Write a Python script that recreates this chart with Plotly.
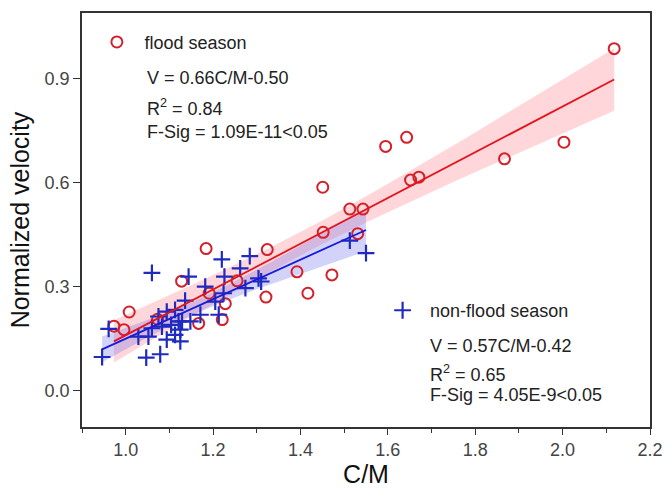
import numpy as np
import plotly.graph_objects as go

# ---------------- data ----------------
flood_cm = [2.118, 2.003, 1.867, 1.671, 1.652, 1.643, 1.595, 1.451, 1.513, 1.543,
            1.452, 1.531, 1.392, 1.472, 1.417, 1.184, 1.324, 1.128, 1.255, 1.191,
            1.321, 1.228, 1.008, 1.167, 1.221, 1.073, 0.973, 0.996]
flood_v = [0.987, 0.717, 0.669, 0.616, 0.608, 0.731, 0.705, 0.587, 0.524, 0.524,
           0.457, 0.453, 0.343, 0.334, 0.281, 0.410, 0.407, 0.316, 0.317, 0.281,
           0.270, 0.251, 0.227, 0.194, 0.205, 0.206, 0.186, 0.176]

nonflood_cm = [0.946, 0.961, 1.047, 1.079, 1.060, 1.029, 1.052, 1.060, 1.075, 1.083,
               1.094, 1.094, 1.104, 1.113, 1.113, 1.125, 1.125, 1.121, 1.129, 1.136,
               1.144, 1.148, 1.171, 1.182, 1.205, 1.213, 1.220, 1.224, 1.226, 1.262,
               1.274, 1.284, 1.304, 1.310, 1.513, 1.550]
nonflood_v = [0.097, 0.178, 0.095, 0.105, 0.340, 0.156, 0.156, 0.180, 0.214, 0.185,
              0.228, 0.147, 0.190, 0.233, 0.161, 0.142, 0.176, 0.200, 0.200, 0.260,
              0.329, 0.200, 0.219, 0.300, 0.257, 0.219, 0.379, 0.281, 0.329, 0.353,
              0.296, 0.388, 0.324, 0.315, 0.433, 0.397]

# fitted equations as printed on the chart
flood_fit = (0.66, -0.50)
nonflood_fit = (0.57, -0.42)
t95_flood = 2.056      # t(0.975, df=26)
t95_nonflood = 2.032   # t(0.975, df=34)

x_ticks = [1.0, 1.2, 1.4, 1.6, 1.8, 2.0, 2.2]
y_ticks = [0.0, 0.3, 0.6, 0.9]

flood_text = ["V = 0.66C/M-0.50", "R<sup>2</sup> = 0.84", "F-Sig = 1.09E-11<0.05"]
nonflood_text = ["V = 0.57C/M-0.42", "R<sup>2</sup> = 0.65", "F-Sig = 4.05E-9<0.05"]

RED = "#d3202a"
BLUE = "#1f2bbf"
FONT = "Liberation Sans, Arial, Helvetica, sans-serif"


def conf_band(x, y, fit, t):
    x = np.asarray(x, float)
    y = np.asarray(y, float)
    slope, intercept = fit
    n = len(x)
    xs = np.linspace(x.min(), x.max(), 80)
    yhat = slope * xs + intercept
    resid = y - (slope * x + intercept)
    s = np.sqrt(np.sum(resid ** 2) / (n - 2))
    sxx = np.sum((x - x.mean()) ** 2)
    se = s * np.sqrt(1.0 / n + (xs - x.mean()) ** 2 / sxx)
    return xs, yhat, yhat - t * se, yhat + t * se


fig = go.Figure()

for xs_, ys_, fit, t, fill in [
    (flood_cm, flood_v, flood_fit, t95_flood, "rgba(255,130,140,0.32)"),
    (nonflood_cm, nonflood_v, nonflood_fit, t95_nonflood, "rgba(110,110,235,0.30)"),
]:
    xs, yhat, lo, hi = conf_band(xs_, ys_, fit, t)
    fig.add_trace(go.Scatter(
        x=np.concatenate([xs, xs[::-1]]), y=np.concatenate([hi, lo[::-1]]),
        fill="toself", fillcolor=fill, line=dict(width=0), mode="lines",
        hoverinfo="skip", showlegend=False))

fig.add_trace(go.Scatter(
    x=flood_cm, y=flood_v, mode="markers", name="flood season",
    marker=dict(symbol="circle-open", size=11, color=RED, line=dict(width=2, color=RED)),
    legend="legend"))
fig.add_trace(go.Scatter(
    x=nonflood_cm, y=nonflood_v, mode="markers", name="non-flood season",
    marker=dict(symbol="cross-thin-open", size=12, color=BLUE, line=dict(width=2.2, color=BLUE)),
    legend="legend2"))

for xs_, ys_, fit, t, col in [
    (flood_cm, flood_v, flood_fit, t95_flood, "#e3141c"),
    (nonflood_cm, nonflood_v, nonflood_fit, t95_nonflood, "#1a1ad6"),
]:
    xs, yhat, lo, hi = conf_band(xs_, ys_, fit, t)
    fig.add_trace(go.Scatter(x=xs, y=yhat, mode="lines", line=dict(color=col, width=1.8),
                             showlegend=False, hoverinfo="skip"))

annos = []
for txt, yy in zip(flood_text, [0.843, 0.771, 0.713]):
    annos.append(dict(x=0.111, y=yy, xref="paper", yref="paper", text=txt,
                      showarrow=False, xanchor="left", yanchor="middle",
                      font=dict(size=18, color="#222", family=FONT)))
for txt, yy in zip(nonflood_text, [0.196, 0.130, 0.077]):
    annos.append(dict(x=0.610, y=yy, xref="paper", yref="paper", text=txt,
                      showarrow=False, xanchor="left", yanchor="middle",
                      font=dict(size=18, color="#222", family=FONT)))

fig.update_layout(
    width=664, height=491,
    margin=dict(l=82, r=14, t=13, b=64),
    paper_bgcolor="white", plot_bgcolor="white",
    font=dict(family=FONT, size=18, color="#222"),
    annotations=annos,
    legend=dict(x=0.013, y=0.974, xanchor="left", yanchor="top",
                bgcolor="rgba(0,0,0,0)", font=dict(size=18, color="#222"),
                itemsizing="trace", itemwidth=45),
    legend2=dict(x=0.516, y=0.326, xanchor="left", yanchor="top",
                 bgcolor="rgba(0,0,0,0)", font=dict(size=18, color="#222"),
                 itemsizing="trace", itemwidth=45),
)

fig.update_xaxes(
    range=[0.9, 2.2], tickvals=x_ticks, ticktext=[f"{v:.1f}" for v in x_ticks],
    ticks="outside", ticklen=6, tickwidth=1.2, tickcolor="#333",
    minor=dict(ticks="outside", ticklen=4, dtick=0.1, tick0=0.9, tickcolor="#333"),
    showline=True, linecolor="#333", linewidth=1.5, mirror=True,
    showgrid=False, zeroline=False, automargin=False,
    tickfont=dict(size=18, color="#444"),
    title=dict(text="C/M", font=dict(size=25, color="#111"), standoff=4),
)
fig.update_yaxes(
    range=[-0.105, 1.09], tickvals=y_ticks, ticktext=[f"{v:.1f}" for v in y_ticks],
    ticks="outside", ticklen=7, tickwidth=1.2, tickcolor="#333",
    showline=True, linecolor="#333", linewidth=1.5, mirror=True,
    showgrid=False, zeroline=False, automargin=False,
    tickfont=dict(size=18, color="#444"),
    title=dict(text="Normalized velocity", font=dict(size=25, color="#111"), standoff=8),
)

fig.write_html("out.html")
